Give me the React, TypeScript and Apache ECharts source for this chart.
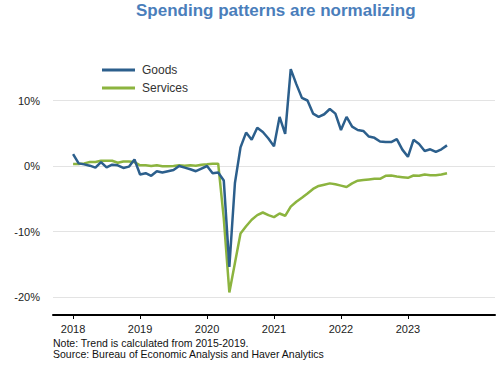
import React, { useEffect, useRef } from "react";
import * as echarts from "echarts";

// Month index 0 = Jan 2018
const goods: number[] = [
  1.8, 0.4, 0.25, 0.05, -0.25, 0.6, -0.2, 0.2, 0.1, -0.3, -0.1, 1.0,
  -1.3, -1.1, -1.5, -0.8, -1.0, -0.8, -0.6, 0.0, -0.25, -0.5, -0.8, -0.4,
  0.0, -1.1, -1.0, -2.2, -15.4, -2.6, 2.85, 5.1, 4.0, 5.85, 5.2, 4.2,
  3.0, 7.5, 4.9, 14.8, 12.5, 10.4, 10.0, 8.0, 7.5, 7.9, 8.7, 8.0,
  5.5, 7.5, 6.0, 5.5, 5.35, 4.5, 4.3, 3.75, 3.65, 3.65, 4.1, 2.5,
  1.4, 4.0, 3.35, 2.3, 2.55, 2.15, 2.55, 3.15,
];
const services: number[] = [
  0.3, 0.3, 0.4, 0.6, 0.6, 0.8, 0.8, 0.8, 0.5, 0.7, 0.7, 0.6,
  0.1, 0.1, 0.0, 0.1, -0.05, -0.05, 0.0, 0.1, 0.05, 0.1, 0.05, 0.2,
  0.25, 0.35, 0.35, -8.0, -19.3, -14.8, -10.3, -9.2, -8.2, -7.5, -7.1, -7.5,
  -7.8, -7.25, -7.6, -6.2, -5.45, -4.85, -4.2, -3.5, -3.05, -2.85, -2.65, -2.8,
  -3.0, -3.2, -2.65, -2.25, -2.15, -2.05, -1.95, -1.95, -1.5, -1.45, -1.6, -1.7,
  -1.8, -1.45, -1.5, -1.3, -1.4, -1.4, -1.3, -1.1,
];
const yearTicks: number[] = [0, 12, 24, 36, 48, 60];
const yearLabels: string[] = ["2018", "2019", "2020", "2021", "2022", "2023"];

const FONT = "'Liberation Sans', Arial, sans-serif";

export default function App() {
  const ref = useRef<HTMLDivElement>(null);
  useEffect(() => {
    document.body.style.margin = "0";
    if (!ref.current) return;
    const chart = echarts.init(ref.current, undefined, { renderer: "svg" });
    const toPairs = (arr: number[]) => arr.map((v, i) => [i, v]);
    chart.setOption({
      animation: false,
      textStyle: { fontFamily: FONT },
      title: {
        text: "Spending patterns are normalizing",
        left: 136,
        top: 2,
        padding: 0,
        textStyle: { fontFamily: FONT, fontSize: 17, fontWeight: "bold", color: "#4a7ebb" },
      },
      legend: {
        data: ["Goods", "Services"],
        orient: "vertical",
        left: 102,
        top: 63,
        padding: 0,
        icon: "rect",
        itemWidth: 33,
        itemHeight: 3,
        itemGap: 4,
        textStyle: { fontFamily: FONT, fontSize: 12, color: "#333", lineHeight: 14, padding: [0, 0, 0, 2] },
      },
      grid: { left: 53, right: 5, top: 35, bottom: 68 },
      xAxis: {
        type: "value",
        min: -3.6,
        max: 75.6,
        offset: 18,
        axisLine: { show: true, onZero: false, lineStyle: { color: "#000", width: 2 } },
        axisTick: {
          show: true,
          customValues: yearTicks,
          length: 4,
          lineStyle: { color: "#000", width: 1 },
        },
        axisLabel: {
          customValues: yearTicks,
          formatter: (v: number) => yearLabels[yearTicks.indexOf(v)] ?? "",
          fontFamily: FONT,
          fontSize: 11,
          color: "#222",
          margin: 8,
        },
        splitLine: { show: false },
      },
      yAxis: {
        type: "value",
        min: -20,
        max: 20,
        interval: 10,
        axisLine: { show: false },
        axisTick: { show: false },
        axisLabel: {
          formatter: "{value}%",
          showMaxLabel: false,
          fontFamily: FONT,
          fontSize: 11,
          color: "#222",
          margin: 13,
        },
        splitLine: { show: true, showMaxLine: false, lineStyle: { color: "#e3e3e3", width: 1 } },
      },
      series: [
        {
          name: "Services",
          type: "line",
          symbol: "none",
          data: toPairs(services),
          lineStyle: { color: "#8cb43f", width: 2.5 },
          itemStyle: { color: "#8cb43f" },
        },
        {
          name: "Goods",
          type: "line",
          symbol: "none",
          data: toPairs(goods),
          lineStyle: { color: "#2c5f8c", width: 2.5 },
          itemStyle: { color: "#2c5f8c" },
        },
      ],
      graphic: [
        {
          type: "text",
          left: 53,
          top: 337,
          style: { text: "Note: Trend is calculated from 2015-2019.", font: `10.5px ${FONT}`, fill: "#111" },
        },
        {
          type: "text",
          left: 53,
          top: 348,
          style: { text: "Source: Bureau of Economic Analysis and Haver Analytics", font: `10.5px ${FONT}`, fill: "#111" },
        },
      ],
    });
    return () => chart.dispose();
  }, []);
  return <div ref={ref} style={{ width: 500, height: 365 }} />;
}
